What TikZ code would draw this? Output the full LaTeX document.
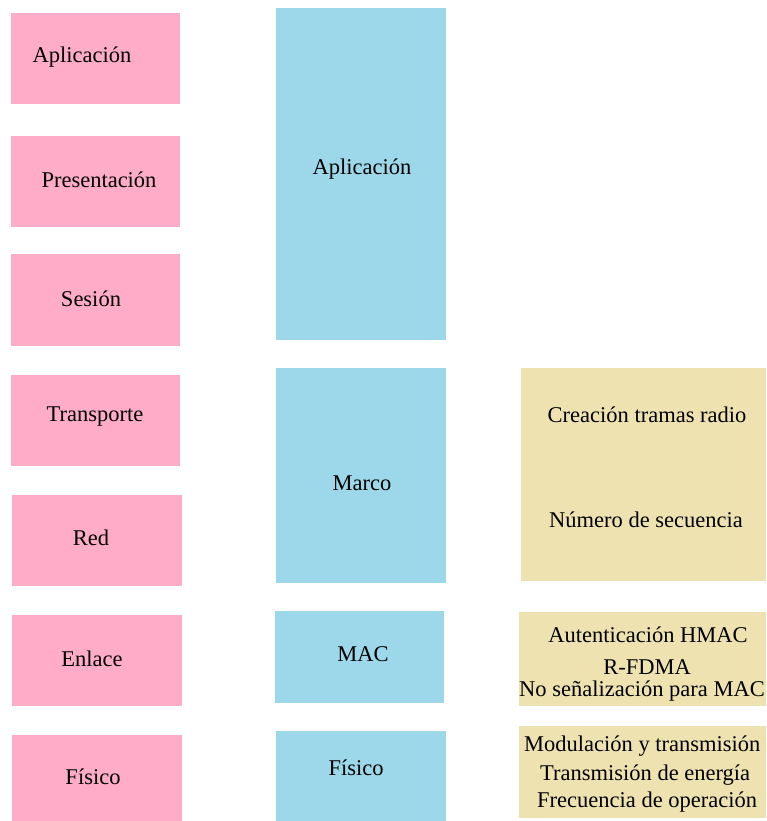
\documentclass[tikz,border=0pt]{standalone}
\usepackage{fontspec}
\setmainfont{Liberation Serif}
\definecolor{pinkc}{RGB}{255,172,201}
\definecolor{bluec}{RGB}{156,216,233}
\definecolor{tanc}{RGB}{238,226,177}
\tikzset{
  boxbase/.style={rectangle, draw=none, inner sep=0pt, outer sep=0pt},
  pinkbox/.style={boxbase, fill=pinkc},
  bluebox/.style={boxbase, fill=bluec},
  tanbox/.style={boxbase, fill=tanc},
  lbl/.style={anchor=base, inner sep=0pt, font=\fontsize{22.5}{27}\selectfont, text=black},
  lblw/.style={lbl, anchor=base west}
}
\begin{document}
\begin{tikzpicture}[x=1pt,y=-1pt]
\useasboundingbox (0,0) rectangle (766,821);
\clip (0,0) rectangle (766,821);
\fill[white] (0,0) rectangle (766,821);
% OSI column
\node[pinkbox, minimum width=169pt, minimum height=91pt] (p1) at (95.5,58.5) {};
\node[pinkbox, minimum width=169pt, minimum height=91pt] (p2) at (95.5,181.5) {};
\node[pinkbox, minimum width=169pt, minimum height=92pt] (p3) at (95.5,300) {};
\node[pinkbox, minimum width=169pt, minimum height=91pt] (p4) at (95.5,420.5) {};
\node[pinkbox, minimum width=170pt, minimum height=91pt] (p5) at (97,540.5) {};
\node[pinkbox, minimum width=170pt, minimum height=91pt] (p6) at (97,660.5) {};
\node[pinkbox, minimum width=170pt, minimum height=95pt] (p7) at (97,782.5) {};
% protocol column
\node[bluebox, minimum width=170pt, minimum height=332pt] (b1) at (361,174) {};
\node[bluebox, minimum width=170pt, minimum height=215pt] (b2) at (361,475.5) {};
\node[bluebox, minimum width=169pt, minimum height=92pt] (b3) at (359.5,657) {};
\node[bluebox, minimum width=170pt, minimum height=99pt] (b4) at (361,780.5) {};
% function column
\node[tanbox, minimum width=259pt, minimum height=213pt] (t1) at (650.5,474.5) {};
\node[tanbox, minimum width=261pt, minimum height=94pt] (t2) at (649.5,659) {};
\node[tanbox, minimum width=261pt, minimum height=92pt] (t3) at (649.5,772) {};
% labels
\node[lbl] (lp1) at (82,62.5) {Aplicación};
\node[lbl] (lp2) at (99,187.5) {Presentación};
\node[lbl] (lp3) at (91,306.5) {Sesión};
\node[lbl] (lp4) at (95,421.5) {Transporte};
\node[lbl] (lp5) at (91,545.5) {Red};
\node[lbl] (lp6) at (92,666.5) {Enlace};
\node[lbl] (lp7) at (93,784.5) {Físico};
\node[lbl] (lb1) at (362,174.5) {Aplicación};
\node[lbl] (lb2) at (362,490.5) {Marco};
\node[lbl] (lb3) at (363,661.5) {MAC};
\node[lbl] (lb4) at (356,775.5) {Físico};
\node[lbl] (lt1) at (647,422.5) {Creación tramas radio};
\node[lbl] (lt2) at (646,527.5) {Número de secuencia};
\node[lbl] (lt3) at (648,642.5) {Autenticación HMAC};
\node[lbl] (lt4) at (647,674.5) {R-FDMA};
\node[lblw] (lt5) at (519,696.5) {No señalización para MAC};
\node[lblw] (lt6) at (524,751.5) {Modulación y transmisión};
\node[lblw] (lt7) at (540,780.5) {Transmisión de energía};
\node[lblw] (lt8) at (537,807.5) {Frecuencia de operación};
\end{tikzpicture}
\end{document}
